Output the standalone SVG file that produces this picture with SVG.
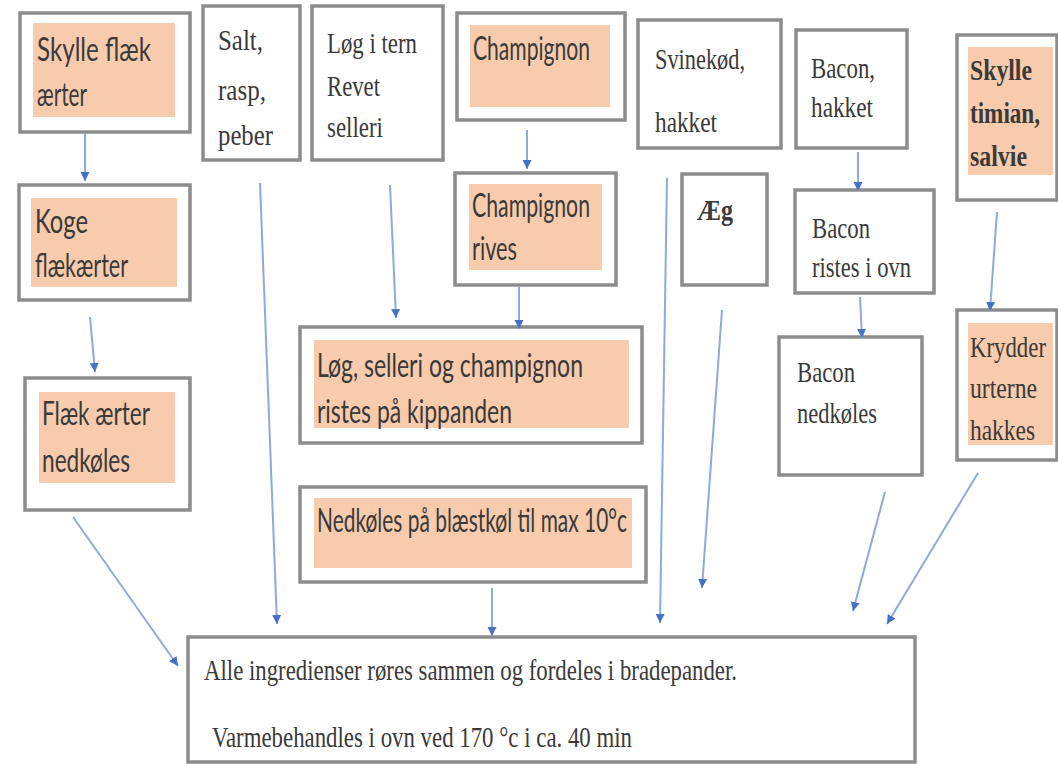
<svg xmlns="http://www.w3.org/2000/svg" width="1058" height="764" viewBox="0 0 1058 764">
<style>
.box{fill:#fff;stroke:#8c8c8c;stroke-width:3.5}
.peach{fill:#f8cbad}
.sans{font-family:Lato,"Open Sans",sans-serif;font-size:32px;fill:#3a3a3a}
.serif{font-family:"Liberation Serif","Times New Roman",serif;font-size:30px;fill:#3a3a3a}
.bold{font-weight:bold}
.conn line{stroke:#8eaadb;stroke-width:2;marker-end:url(#ah)}
</style>
<defs>
<marker id="ah" markerUnits="userSpaceOnUse" markerWidth="10" markerHeight="10" refX="9" refY="5" orient="auto">
<path d="M0,0.5 L9,5 L0,9.5 z" fill="#4472c4"/>
</marker>
</defs>
<rect width="1058" height="764" fill="#fff"/>

<g id="n1">
<rect class="box" x="20" y="13" width="170" height="119"/>
<rect class="peach" x="33" y="23" width="142" height="94"/>
<text class="sans" x="37" y="61" textLength="114" lengthAdjust="spacingAndGlyphs">Skylle flæk</text>
<text class="sans" x="37" y="106" textLength="50" lengthAdjust="spacingAndGlyphs">ærter</text>
</g>
<g id="n2">
<rect class="box" x="203" y="6" width="97" height="154"/>
<text class="serif" x="218" y="50" textLength="45" lengthAdjust="spacingAndGlyphs">Salt,</text>
<text class="serif" x="218" y="100" textLength="48" lengthAdjust="spacingAndGlyphs">rasp,</text>
<text class="serif" x="218" y="145" textLength="55" lengthAdjust="spacingAndGlyphs">peber</text>
</g>
<g id="n3">
<rect class="box" x="312" y="6" width="131" height="154"/>
<text class="serif" x="327" y="53" textLength="90" lengthAdjust="spacingAndGlyphs">Løg i tern</text>
<text class="serif" x="327" y="96" textLength="53" lengthAdjust="spacingAndGlyphs">Revet</text>
<text class="serif" x="327" y="137" textLength="56" lengthAdjust="spacingAndGlyphs">selleri</text>
</g>
<g id="n4">
<rect class="box" x="457" y="13" width="168" height="107"/>
<rect class="peach" x="470" y="25" width="140" height="82"/>
<text class="sans" x="473" y="60" textLength="117" lengthAdjust="spacingAndGlyphs">Champignon</text>
</g>
<g id="n5">
<rect class="box" x="638" y="20" width="143" height="128"/>
<text class="serif" x="655" y="69" textLength="90" lengthAdjust="spacingAndGlyphs">Svinekød,</text>
<text class="serif" x="655" y="132" textLength="62" lengthAdjust="spacingAndGlyphs">hakket</text>
</g>
<g id="n6">
<rect class="box" x="796" y="30" width="111" height="118"/>
<text class="serif" x="811" y="78" textLength="64" lengthAdjust="spacingAndGlyphs">Bacon,</text>
<text class="serif" x="811" y="117" textLength="62" lengthAdjust="spacingAndGlyphs">hakket</text>
</g>
<g id="n7">
<rect class="box" x="957" y="35" width="100" height="165"/>
<rect class="peach" x="968" y="47" width="85" height="128"/>
<text class="serif bold" x="970" y="80" textLength="62" lengthAdjust="spacingAndGlyphs">Skylle</text>
<text class="serif bold" x="970" y="123" textLength="70" lengthAdjust="spacingAndGlyphs">timian,</text>
<text class="serif bold" x="970" y="166" textLength="57" lengthAdjust="spacingAndGlyphs">salvie</text>
</g>
<g id="n8">
<rect class="box" x="19" y="185" width="171" height="115"/>
<rect class="peach" x="31" y="198" width="146" height="89"/>
<text class="sans" x="35" y="233" textLength="53" lengthAdjust="spacingAndGlyphs">Koge</text>
<text class="sans" x="35" y="277" textLength="93" lengthAdjust="spacingAndGlyphs">flækærter</text>
</g>
<g id="n9">
<rect class="box" x="25" y="378" width="165" height="132"/>
<rect class="peach" x="39" y="392" width="136" height="91"/>
<text class="sans" x="42" y="425" textLength="108" lengthAdjust="spacingAndGlyphs">Flæk ærter</text>
<text class="sans" x="42" y="472" textLength="88" lengthAdjust="spacingAndGlyphs">nedkøles</text>
</g>
<g id="n10">
<rect class="box" x="455" y="173" width="161" height="112"/>
<rect class="peach" x="469" y="184" width="133" height="86"/>
<text class="sans" x="472" y="217" textLength="118" lengthAdjust="spacingAndGlyphs">Champignon</text>
<text class="sans" x="472" y="260" textLength="45" lengthAdjust="spacingAndGlyphs">rives</text>
</g>
<g id="n11">
<rect class="box" x="300" y="327" width="342" height="116"/>
<rect class="peach" x="314" y="340" width="315" height="88"/>
<text class="sans" x="317" y="377" textLength="266" lengthAdjust="spacingAndGlyphs">Løg, selleri og champignon</text>
<text class="sans" x="317" y="423" textLength="195" lengthAdjust="spacingAndGlyphs">ristes på kippanden</text>
</g>
<g id="n12">
<rect class="box" x="300" y="487" width="346" height="95"/>
<rect class="peach" x="314" y="498" width="318" height="70"/>
<text class="sans" x="317" y="532" textLength="310" lengthAdjust="spacingAndGlyphs">Nedkøles på blæstkøl til max 10°c</text>
</g>
<g id="n13">
<rect class="box" x="682" y="174" width="85" height="111"/>
<text class="serif bold" x="697" y="220" textLength="36" lengthAdjust="spacingAndGlyphs">Æg</text>
</g>
<g id="n14">
<rect class="box" x="795" y="190" width="139" height="103"/>
<text class="serif" x="812" y="238" textLength="58" lengthAdjust="spacingAndGlyphs">Bacon</text>
<text class="serif" x="812" y="277" textLength="99" lengthAdjust="spacingAndGlyphs">ristes i ovn</text>
</g>
<g id="n15">
<rect class="box" x="779" y="337" width="143" height="138"/>
<text class="serif" x="797" y="382" textLength="58" lengthAdjust="spacingAndGlyphs">Bacon</text>
<text class="serif" x="797" y="423" textLength="80" lengthAdjust="spacingAndGlyphs">nedkøles</text>
</g>
<g id="n16">
<rect class="box" x="957" y="310" width="100" height="150"/>
<rect class="peach" x="968" y="323" width="85" height="122"/>
<text class="serif" x="970" y="357" textLength="76" lengthAdjust="spacingAndGlyphs">Krydder</text>
<text class="serif" x="970" y="398" textLength="67" lengthAdjust="spacingAndGlyphs">urterne</text>
<text class="serif" x="970" y="440" textLength="65" lengthAdjust="spacingAndGlyphs">hakkes</text>
</g>
<g id="n17">
<rect class="box" x="188" y="637" width="727" height="125"/>
<text class="serif" x="204" y="680" textLength="533" lengthAdjust="spacingAndGlyphs">Alle ingredienser røres sammen og fordeles i bradepander.</text>
<text class="serif" x="212" y="747" textLength="420" lengthAdjust="spacingAndGlyphs">Varmebehandles i ovn ved 170 °c i ca. 40 min</text>
</g>

<g id="connectors" class="conn">
<line x1="85" y1="134" x2="85" y2="181"/>
<line x1="90" y1="317" x2="95" y2="372"/>
<line x1="73" y1="517" x2="178" y2="666"/>
<line x1="260" y1="183" x2="277" y2="624"/>
<line x1="390" y1="185" x2="396" y2="318"/>
<line x1="527" y1="130" x2="527" y2="169"/>
<line x1="519" y1="287" x2="519" y2="329"/>
<line x1="492" y1="588" x2="492" y2="636"/>
<line x1="667" y1="178" x2="660" y2="623"/>
<line x1="722" y1="310" x2="702" y2="588"/>
<line x1="858" y1="152" x2="858" y2="191"/>
<line x1="860" y1="297" x2="862" y2="338"/>
<line x1="885" y1="492" x2="853" y2="611"/>
<line x1="997" y1="212" x2="990" y2="311"/>
<line x1="978" y1="473" x2="887" y2="624"/>
</g>
</svg>
